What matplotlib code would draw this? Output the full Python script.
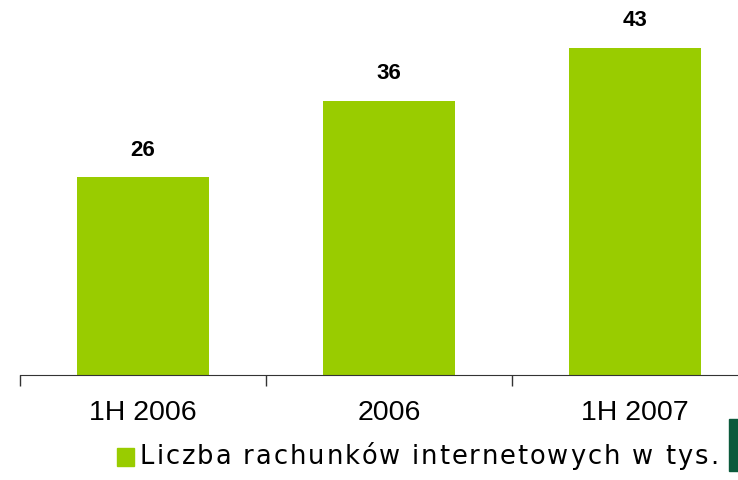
import numpy as np
import matplotlib.pyplot as plt
from matplotlib.patches import Rectangle
from matplotlib.font_manager import FontProperties

categories = ["1H 2006", "2006", "1H 2007"]
values = [26, 36, 43]
legend_label = "Liczba rachunków internetowych w tys."

green = "#99CC00"

fig = plt.figure(figsize=(7.38, 4.8), dpi=100)
# axes runs past the right edge, as in the reference
ax = fig.add_axes([20 / 738, 105 / 480, 738 / 738, 375 / 480])

x = np.arange(len(categories))
ax.bar(x, values, width=0.54, color=green, zorder=2)

for xi, v in zip(x, values):
    ax.annotate(str(v), (xi, v), xytext=(0, 12), textcoords="offset points",
                ha="center", va="bottom", fontsize=16, fontweight="bold",
                family="Liberation Sans")

ax.set_xlim(-0.5, 2.5)
ax.set_ylim(0, 49.3)

ax.set_xticks(np.arange(-0.5, 3, 1))
ax.set_xticklabels([])
ax.set_xticks(x, minor=True)
ax.set_xticklabels(categories, minor=True, fontsize=20.5, family="Liberation Sans")
ax.tick_params(axis="x", which="major", direction="out", length=8, width=1, color="#333333")
ax.tick_params(axis="x", which="minor", length=0, pad=18)
ax.set_yticks([])

for side in ["top", "right", "left"]:
    ax.spines[side].set_visible(False)
ax.spines["bottom"].set_color("#333333")

# legend marker
fig.patches.append(Rectangle((117 / 738, 1 - 466 / 480), 17 / 738, 18 / 480,
                             transform=fig.transFigure, color=green))

# legend text with wide letter spacing, drawn char by char
prop = FontProperties(family="DejaVu Sans", size=18.5)
renderer = fig.canvas.get_renderer()


def text_width(s):
    w, _, _ = renderer.get_text_width_height_descent(s + "|", prop, ismath=False)
    w0, _, _ = renderer.get_text_width_height_descent("|", prop, ismath=False)
    return w - w0


x0, x1 = 140, 718
natural = text_width(legend_label)
tracking = (x1 - x0 - natural) / (len(legend_label) - 1)
for i, ch in enumerate(legend_label):
    if ch == " ":
        continue
    px = x0 + text_width(legend_label[:i]) + i * tracking
    fig.text(px / 738, 1 - 457 / 480, ch, fontproperties=prop, va="center", ha="left")

# logo fragment at right edge
fig.patches.append(Rectangle((729 / 738, 1 - 471 / 480), 12 / 738, 52 / 480,
                             transform=fig.transFigure, color="#0B5A3C"))

fig.savefig("out.png", dpi=100)
